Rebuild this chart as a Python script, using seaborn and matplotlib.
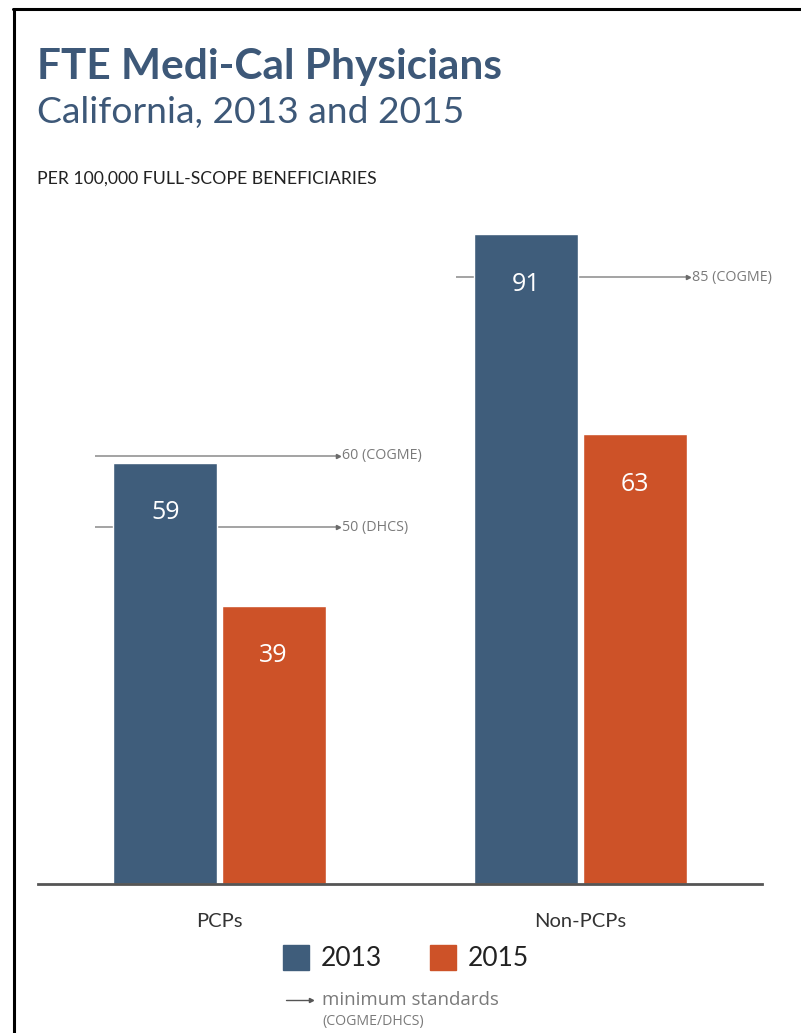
import matplotlib
matplotlib.use("Agg")
import matplotlib.pyplot as plt
import seaborn as sns
import pandas as pd
from matplotlib.lines import Line2D
from matplotlib.patches import Rectangle

# ---- data ----
categories = ["PCPs", "Non-PCPs"]
years = ["2013", "2015"]
values_2013 = [59, 91]
values_2015 = [39, 63]
# minimum standards per category: (value, label)
std_category = ["PCPs", "PCPs", "Non-PCPs"]
std_values = [60, 50, 85]
std_labels = ["60 (COGME)", "50 (DHCS)", "85 (COGME)"]

title = "FTE Medi-Cal Physicians"
subtitle = "California, 2013 and 2015"
unit_label = "PER 100,000 FULL-SCOPE BENEFICIARIES"

# ---- styling ----
c2013 = "#3f5d7b"
c2015 = "#cd5228"
title_color = "#3d5878"
gray_txt = "#7a7a7a"

sns.set_theme(style="white")
plt.rcParams["font.family"] = ["Lato", "DejaVu Sans"]

df = pd.DataFrame({
    "category": categories * 2,
    "year": [years[0]] * len(categories) + [years[1]] * len(categories),
    "value": values_2013 + values_2015,
})

fig = plt.figure(figsize=(8.01, 10.33), dpi=100)
ax = fig.add_axes([38 / 801, 149 / 1033, 724 / 801, 714 / 1033])

# standards lines (behind bars)
std_ext = {"PCPs": (-0.345, 0.328), "Non-PCPs": (-0.345, 0.298)}
for cat, v, lab in zip(std_category, std_values, std_labels):
    i = categories.index(cat)
    x0, x1 = std_ext[cat]
    ax.plot([i + x0, i + x1], [v, v], color="#8a8a8a", lw=1.1, zorder=0.5,
            solid_capstyle="butt")
    ax.plot([i + x1], [v], marker=">", ms=3, color="#6a6a6a", zorder=0.5)
    ax.text(i + x1 + 0.012, v, lab, ha="left", va="center", fontsize=10.3,
            color=gray_txt, family=["Open Sans", "DejaVu Sans"])

sns.barplot(data=df, x="category", y="value", hue="year", order=categories,
            hue_order=years, palette=[c2013, c2015], width=0.6, gap=0.04,
            saturation=1, legend=False, ax=ax, zorder=2)

for p in ax.patches:
    h = p.get_height()
    ax.text(p.get_x() + p.get_width() / 2, h - 7.0, f"{h:.0f}", ha="center",
            va="center", color="white", fontsize=18, zorder=3,
            family=["Open Sans", "DejaVu Sans"])

ax.set_xlim(-0.503, 1.503)
ax.set_ylim(0, 100)
ax.set_xlabel("")
ax.set_ylabel("")
ax.set_yticks([])
for s in ["top", "right", "left"]:
    ax.spines[s].set_visible(False)
ax.spines["bottom"].set_color("#555555")
ax.spines["bottom"].set_linewidth(2)
ax.spines["bottom"].set_zorder(4)
ax.tick_params(axis="x", length=0, pad=21, labelsize=14.5, labelcolor="#333333")

# ---- titles ----
fig.text(37 / 801, 1 - 79 / 1033, title, fontsize=30.5, fontweight="bold",
         color=title_color, va="baseline", ha="left")
fig.text(37 / 801, 1 - 123 / 1033, subtitle, fontsize=26.8, color=title_color,
         va="baseline", ha="left")
fig.text(37 / 801, 1 - 184 / 1033, unit_label, fontsize=12.7, color="#222222",
         va="baseline", ha="left")

# ---- legend ----
W, H = 801, 1033
for x, col, lab in [(283, c2013, years[0]), (430, c2015, years[1])]:
    fig.patches.append(Rectangle((x / W, 1 - 970 / H), 26 / W, 25 / H,
                                 transform=fig.transFigure, color=col))
    fig.text((x + 38) / W, 1 - 958 / H, lab, fontsize=19, color="#222222",
             va="center", ha="left")
fig.lines.append(Line2D([286 / W, 311 / W], [1 - 1000 / H, 1 - 1000 / H],
                        transform=fig.transFigure, color="#555555", lw=1))
fig.lines.append(Line2D([311 / W], [1 - 1000 / H], marker=">", ms=3,
                        transform=fig.transFigure, color="#555555"))
fig.text(322 / W, 1 - 1000 / H, "minimum standards", fontsize=13.5,
         color=gray_txt, va="center", ha="left", family=["Open Sans", "DejaVu Sans"])
fig.text(322 / W, 1 - 1022 / H, "(COGME/DHCS)", fontsize=10.2,
         color=gray_txt, va="center", ha="left", family=["Open Sans", "DejaVu Sans"])

# ---- frame ----
fig.lines.append(Line2D([13 / W, 1], [1 - 9 / H, 1 - 9 / H],
                        transform=fig.transFigure, color="black", lw=2.2))
fig.lines.append(Line2D([14 / W, 14 / W], [0, 1 - 9 / H],
                        transform=fig.transFigure, color="black", lw=2.2))

fig.savefig("out.png", dpi=100)
